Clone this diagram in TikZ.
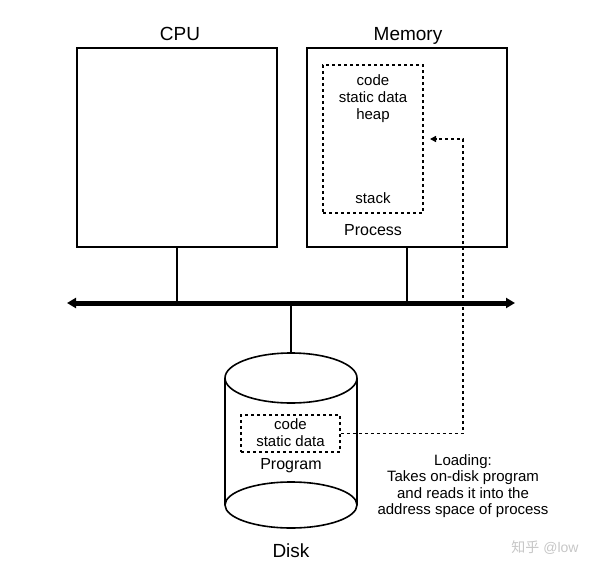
\documentclass[tikz,border=0pt]{standalone}
\usepackage{fontspec}
\setmainfont{Liberation Sans}
\newfontfamily\cjkfont{Noto Sans CJK SC}
\usetikzlibrary{arrows.meta}

\begin{document}
\begin{tikzpicture}[x=1pt,y=-1pt,
    box/.style={draw,line width=1.6pt,minimum width=200pt,minimum height=199pt,inner sep=0pt},
    segbox/.style={draw,line width=1.6pt,dash pattern=on 3pt off 3pt,inner sep=0pt},
    title/.style={font=\fontsize{19}{22}\selectfont,anchor=base},
    label/.style={font=\fontsize{16}{19}\selectfont},
    small/.style={font=\fontsize{15}{17}\selectfont,align=center,inner sep=0pt},
    wire/.style={line width=1.6pt},
    drop/.style={line width=2.6pt},
    bus/.style={line width=5pt,{Triangle[width=10pt,length=9pt]}-{Triangle[width=10pt,length=9pt]}},
    loadline/.style={line width=1.6pt,dash pattern=on 3pt off 3pt,-{Triangle[width=6pt,length=6pt]}}]
    \useasboundingbox (0,0) rectangle (600,570);
    % cpu and memory
    \node[box] (cpu) at (177,147.5) {};
    \node[box] (mem) at (407,147.5) {};
    \node[title] (cpulabel) at (180,40) {CPU};
    \node[title] (memlabel) at (408,40) {Memory};
    \node[segbox,minimum width=100pt,minimum height=148pt] (proc) at (373,139) {};
    \node[small] (segs) at (373,99) {code\\static data\\heap};
    \node[small] (stack) at (373,198) {stack};
    \node[label] (proclabel) at (373,230) {Process};
    % bus
    \coordinate (busL) at (67,303);
    \coordinate (busR) at (515,303);
    \draw[bus] (busL) -- (busR);
    \draw[drop] (cpu.south) -- (cpu.south |- busL);
    \draw[drop] (mem.south) -- (mem.south |- busL);
    % disk
    \coordinate (disktop) at (291,353);
    \coordinate (diskup) at (291,378);
    \coordinate (diskdown) at (291,505);
    \draw[drop] (disktop |- busL) -- (disktop);
    \draw[wire] (diskup) ellipse [x radius=66pt,y radius=25pt];
    \draw[wire] (diskdown) ellipse [x radius=66pt,y radius=23pt];
    \draw[wire] (225,378) -- (225,505) (357,378) -- (357,505);
    \node[segbox,minimum width=99pt,minimum height=37pt] (prog) at (290.5,433.5) {};
    \node[small] (progsegs) at (290.5,432.5) {code\\static data};
    \node[label] (proglabel) at (291,466) {Program};
    \node[title] (disklabel) at (291,557) {Disk};
    % loading
    \coordinate (bend) at (463,139);
    \coordinate (tip) at (430,139);
    \draw[loadline] (prog.east) -| (bend) -- (tip);
    \node[small,font=\fontsize{15}{16.5}\selectfont] (loading) at (463,486) {Loading:\\Takes on-disk program\\and reads it into the\\address space of process};
    \node[font=\fontsize{14}{16}\selectfont,text=gray!45] (mark) at (545,548) {{\cjkfont 知乎} @low};
\end{tikzpicture}
\end{document}
